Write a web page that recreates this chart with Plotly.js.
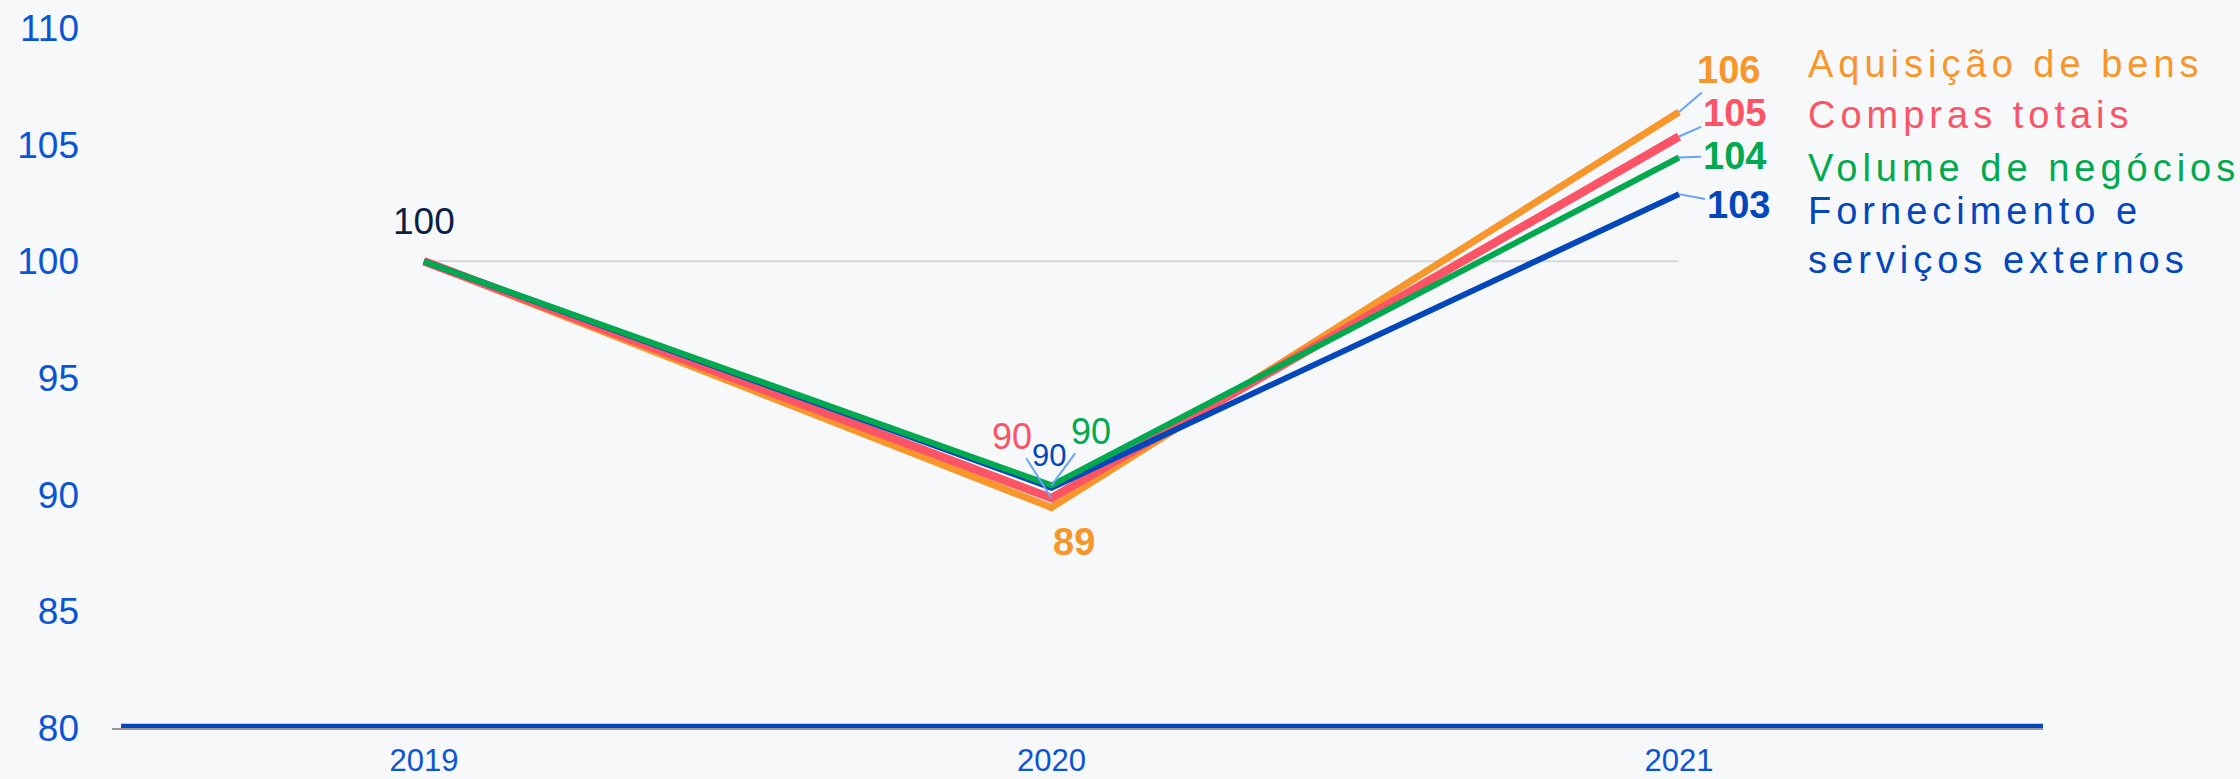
<!DOCTYPE html>
<html>
<head>
<meta charset="utf-8">
<script src="https://cdn.plot.ly/plotly-3.0.1.min.js"></script>
<style>
  html, body { margin: 0; padding: 0; background: #f6f8fa; }
  #chart { width: 2240px; height: 779px; }
</style>
</head>
<body>
<div id="chart"></div>
<script>
// ---- data ----
var years = [2019, 2020, 2021];
var yearLabels = ["2019", "2020", "2021"];
var seriesNames = ["Aquisição de bens", "Compras totais", "Volume de negócios", "Fornecimento e<br>serviços externos"];
var aquisicao = [100, 89.45, 106.4];
var compras = [100, 89.85, 105.35];
var volume = [100, 90.4, 104.45];
var fornecimento = [100, 90.3, 102.88];
var yTicks = [80, 85, 90, 95, 100, 105, 110];

var cOrange = "#f7962b", cRed = "#fb5467", cGreen = "#02a94f", cBlue = "#0347bb";
var leader = "#6aa3f7";
var tickBlue = "#0b55d4";
var FAM = "Liberation Sans, Arial, sans-serif";

var traces = [
  {x: years, y: aquisicao, mode: "lines", line: {color: cOrange, width: 7}, hoverinfo: "skip"},
  {x: years, y: compras, mode: "lines", line: {color: cRed, width: 8.5}, hoverinfo: "skip"},
  {x: years, y: fornecimento, mode: "lines", line: {color: cBlue, width: 6}, hoverinfo: "skip"},
  {x: years, y: volume, mode: "lines", line: {color: cGreen, width: 6}, hoverinfo: "skip"}
];

function f(color, size, weight) {
  return {family: FAM, size: size, color: color, weight: weight || 400};
}
function arrowAnn(x, y, color, size, weight, ax, ay) {
  return {x: x, y: y, xref: "x", yref: "y", text: String(Math.round(y)), font: f(color, size, weight),
    showarrow: true, arrowhead: 0, arrowwidth: 2, arrowcolor: leader, ax: ax, ay: ay, standoff: 0, startstandoff: 0};
}
function shiftAnn(x, y, color, size, weight, xs, ys) {
  return {x: x, y: y, xref: "x", yref: "y", text: String(Math.round(y)), font: f(color, size, weight),
    showarrow: false, xshift: xs, yshift: ys};
}
function legendAnn(text, color, y) {
  var parts = text.split("<br>").map(function (p) { return '<span style="letter-spacing:5px">' + p + '</span>'; });
  return {x: 0.8775, y: y, xref: "paper", yref: "paper", xanchor: "left", yanchor: "middle", align: "left",
    text: parts.join("<br>"), font: f(color, 38, 400), showarrow: false};
}

var annotations = [
  shiftAnn(years[0], aquisicao[0], "#0b1f45", 37, 400, 0, 40),
  arrowAnn(years[2], aquisicao[2], cOrange, 38, 700, 49, -42),
  arrowAnn(years[2], compras[2], cRed, 38, 700, 55, -24),
  arrowAnn(years[2], volume[2], cGreen, 38, 700, 55, -2),
  arrowAnn(years[2], fornecimento[2], cBlue, 38, 700, 59, 11),
  shiftAnn(years[1], aquisicao[1], cOrange, 38, 700, 23, -34),
  arrowAnn(years[1], compras[1], cRed, 36, 400, -39, -62),
  shiftAnn(years[1], fornecimento[1], cBlue, 31, 400, -2, 32),
  arrowAnn(years[1], volume[1], cGreen, 36, 400, 40, -54),
  legendAnn(seriesNames[0], cOrange, 0.9486),
  legendAnn(seriesNames[1], cRed, 0.876),
  legendAnn(seriesNames[2], cGreen, 0.8),
  legendAnn(seriesNames[3], cBlue, 0.703)
];

var shapes = [
  {type: "line", xref: "x", yref: "y", x0: years[0], x1: years[2], y0: 100, y1: 100,
   line: {color: "#d8d8d8", width: 2}, layer: "below"},
  {type: "line", xref: "paper", yref: "y", x0: 0.0047, x1: 1, y0: yTicks[0], y1: yTicks[0],
   line: {color: cBlue, width: 8.5}, layer: "above"}
];

var layout = {
  width: 2240, height: 779,
  margin: {l: 112, r: 197, t: 28, b: 51},
  paper_bgcolor: "#f6f8fa", plot_bgcolor: "#f6f8fa",
  showlegend: false,
  xaxis: {
    range: [2018.503, 2021.58], tickvals: years, ticktext: yearLabels,
    showgrid: false, zeroline: false, showline: true, linecolor: "#9a9a9a", linewidth: 2,
    ticks: "", ticklabelstandoff: 4,
    tickfont: {family: FAM, size: 31, color: tickBlue}
  },
  yaxis: {
    range: [80, 110], tickvals: yTicks, ticktext: yTicks.map(String),
    showgrid: false, zeroline: false, showline: false, ticks: "", ticklabelstandoff: 32,
    tickfont: {family: FAM, size: 37, color: tickBlue}
  },
  annotations: annotations,
  shapes: shapes
};

Plotly.newPlot("chart", traces, layout, {staticPlot: true, displayModeBar: false});
</script>
</body>
</html>
